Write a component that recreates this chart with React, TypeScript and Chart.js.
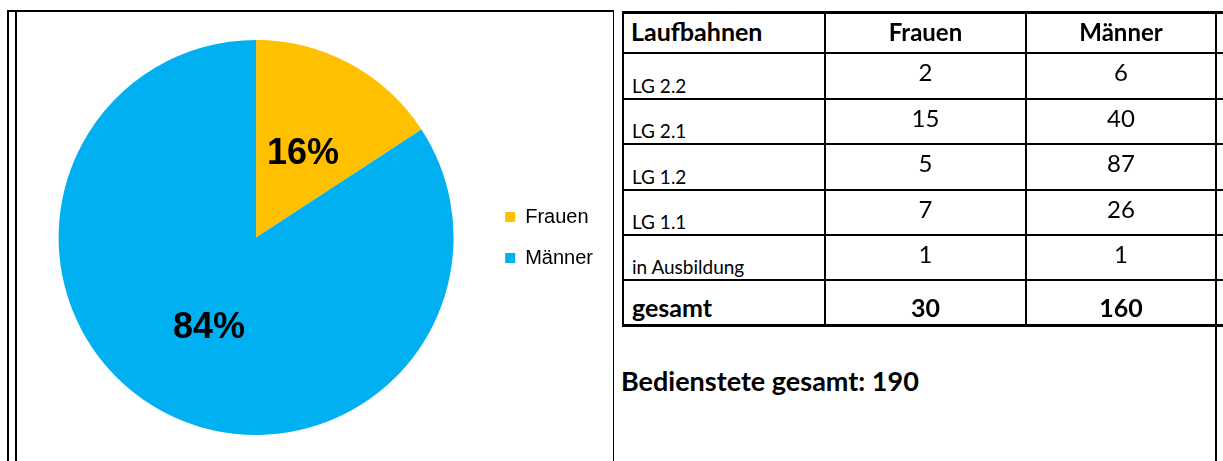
import React, { useEffect, useRef } from "react";
import { Chart, registerables } from "chart.js";

Chart.register(...registerables);

// ---------- data ----------
const seriesLabels = ["Frauen", "Männer"];
const seriesColors = ["#FFC000", "#00B0F0"];
const laufbahnen = ["LG 2.2", "LG 2.1", "LG 1.2", "LG 1.1", "in Ausbildung"];
const frauen = [2, 15, 5, 7, 1];
const maenner = [6, 40, 87, 26, 1];
const headerLabels = ["Laufbahnen", "Frauen", "Männer"];
const totalLabel = "gesamt";
const staffLabel = "Bedienstete gesamt";

const sum = (a: number[]) => a.reduce((s, v) => s + v, 0);
const totalFrauen = sum(frauen);
const totalMaenner = sum(maenner);
const pieValues = [totalFrauen, totalMaenner];

// ---------- layout (positions only) ----------
const rowLinesY = [12, 53, 99, 144, 190, 235, 280, 325];
const colLinesX = [623, 825, 1026, 1216];
const TABLE_FONT = "Lato, 'Open Sans', sans-serif";
const ASC = 0.887;

const pctPlugin = {
  id: "pctLabels",
  afterDatasetsDraw(chart: any) {
    const ctx = chart.ctx;
    const meta = chart.getDatasetMeta(0);
    const data = chart.data.datasets[0].data as number[];
    const total = data.reduce((a, b) => a + b, 0);
    const size = 36;
    ctx.save();
    ctx.font = `bold ${size}px 'Liberation Sans', Arial, sans-serif`;
    ctx.fillStyle = "#000";
    ctx.textAlign = "center";
    ctx.textBaseline = "alphabetic";
    meta.data.forEach((arc: any, i: number) => {
      const p = arc.tooltipPosition(false);
      ctx.fillText(Math.round((data[i] / total) * 100) + "%", p.x, p.y + size * 0.37);
    });
    ctx.restore();
  },
};

function Txt(props: {
  x: number;
  baseline: number;
  size: number;
  bold?: boolean;
  align?: "left" | "center";
  children: React.ReactNode;
}) {
  const { x, baseline, size, bold, align = "left", children } = props;
  const w = 300;
  const style: React.CSSProperties = {
    position: "absolute",
    top: baseline - ASC * size,
    left: align === "center" ? x - w / 2 : x,
    width: align === "center" ? w : undefined,
    textAlign: align,
    fontFamily: TABLE_FONT,
    fontSize: size,
    lineHeight: `${size}px`,
    fontWeight: bold ? 700 : 400,
    color: "#000",
    whiteSpace: "nowrap",
  };
  return <div style={style}>{children}</div>;
}

function HLine({ x1, x2, y, t = 2 }: { x1: number; x2: number; y: number; t?: number }) {
  return (
    <div
      style={{ position: "absolute", left: x1, top: y - t / 2, width: x2 - x1, height: t, background: "#000" }}
    />
  );
}
function VLine({ x, y1, y2, t = 2 }: { x: number; y1: number; y2: number; t?: number }) {
  return (
    <div
      style={{ position: "absolute", left: x - t / 2, top: y1, width: t, height: y2 - y1, background: "#000" }}
    />
  );
}

export default function App() {
  const canvasRef = useRef<HTMLCanvasElement | null>(null);

  useEffect(() => {
    if (!canvasRef.current) return;
    const chart = new Chart(canvasRef.current, {
      type: "pie",
      data: {
        labels: seriesLabels,
        datasets: [
          {
            data: pieValues,
            backgroundColor: seriesColors,
            borderWidth: 0,
          },
        ],
      },
      options: {
        responsive: false,
        animation: false,
        layout: { padding: { left: 28, right: 10, top: 40, bottom: 26 } },
        plugins: {
          legend: {
            position: "right",
            align: "center",
            labels: {
              boxWidth: 10,
              boxHeight: 10,
              padding: 21,
              color: "#000",
              font: { family: "'Liberation Sans', Arial, sans-serif", size: 20 },
            },
          },
          tooltip: { enabled: false },
        },
      },
      plugins: [pctPlugin],
    });
    return () => chart.destroy();
  }, []);

  const tableRight = 1223;
  const tableBottom = rowLinesY[rowLinesY.length - 1];
  const colCenters = [
    (colLinesX[1] + colLinesX[2]) / 2,
    (colLinesX[2] + colLinesX[3]) / 2,
  ];

  return (
    <div
      style={{
        position: "absolute",
        left: 0,
        top: 0,
        width: 1223,
        height: 461,
        overflow: "hidden",
        background: "#fff",
      }}
    >
      <canvas
        ref={canvasRef}
        width={613}
        height={461}
        style={{ position: "absolute", left: 0, top: 0, width: 613, height: 461 }}
      />

      {/* left frame */}
      <HLine x1={7} x2={614} y={11} />
      <VLine x={8} y1={10} y2={461} />
      <VLine x={16} y1={10} y2={461} />
      <VLine x={613.5} y1={12} y2={461} t={1} />

      {/* table grid */}
      {rowLinesY.map((y, i) => (
        <HLine key={"h" + i} x1={colLinesX[0] - 1} x2={tableRight} y={y} t={i === 0 || i === rowLinesY.length - 1 ? 3 : 2} />
      ))}
      {colLinesX.map((x, i) => (
        <VLine
          key={"v" + i}
          x={x}
          y1={rowLinesY[0]}
          y2={i === colLinesX.length - 1 ? 461 : tableBottom + 1}
          t={i === 1 || i === 2 ? 1.5 : 2.5}
        />
      ))}

      {/* header */}
      <Txt x={631} baseline={41} size={25} bold>
        {headerLabels[0]}
      </Txt>
      <Txt x={colCenters[0]} baseline={41} size={24} bold align="center">
        {headerLabels[1]}
      </Txt>
      <Txt x={colCenters[1]} baseline={41} size={24} bold align="center">
        {headerLabels[2]}
      </Txt>

      {/* body */}
      {laufbahnen.map((lb, i) => {
        const top = rowLinesY[i + 1];
        const bottom = rowLinesY[i + 2];
        return (
          <React.Fragment key={lb}>
            <Txt x={632} baseline={bottom - 6} size={19}>
              {lb}
            </Txt>
            <Txt x={colCenters[0]} baseline={top + 28} size={24} align="center">
              {frauen[i]}
            </Txt>
            <Txt x={colCenters[1]} baseline={top + 28} size={24} align="center">
              {maenner[i]}
            </Txt>
          </React.Fragment>
        );
      })}

      {/* totals */}
      <Txt x={632} baseline={317} size={25} bold>
        {totalLabel}
      </Txt>
      <Txt x={colCenters[0]} baseline={317} size={25} bold align="center">
        {totalFrauen}
      </Txt>
      <Txt x={colCenters[1]} baseline={317} size={25} bold align="center">
        {totalMaenner}
      </Txt>

      <Txt x={621} baseline={391} size={27} bold>
        {staffLabel}: {totalFrauen + totalMaenner}
      </Txt>
    </div>
  );
}
